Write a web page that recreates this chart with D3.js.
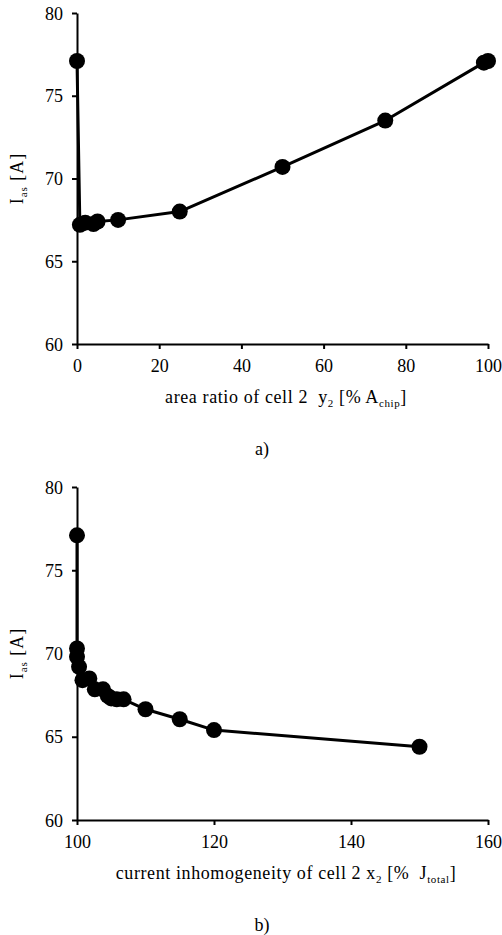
<!DOCTYPE html>
<html><head><meta charset="utf-8">
<script src="https://cdn.jsdelivr.net/npm/d3@7"></script>
<style>
body{margin:0;background:#fff;}
svg{display:block;}
svg text{font-family:"Liberation Serif","DejaVu Serif",serif !important;}
</style></head>
<body>
<svg id="c" width="502" height="935"></svg>
<script>
// Panel a) : area ratio of cell 2 y2 [% A_chip] vs I_as [A]
const areaRatio = [0, 0.7, 2, 4, 5, 10, 25, 50, 75, 99, 100];
const iasA      = [77.1, 67.2, 67.33, 67.25, 67.4, 67.5, 68.0, 70.7, 73.5, 77.0, 77.1];
const xTicksA   = [0, 20, 40, 60, 80, 100];

// Panel b) : current inhomogeneity of cell 2 x2 [% J_total] vs I_as [A]
const inhomog = [100, 100, 100, 100.3, 100.8, 101.8, 102.6, 103.8, 104.5, 105, 105.8, 106.8, 110, 115, 120, 150];
const iasB    = [77.1, 70.3, 69.8, 69.2, 68.4, 68.5, 67.85, 67.85, 67.45, 67.3, 67.25, 67.25, 66.65, 66.05, 65.4, 64.4];
const xTicksB = [100, 120, 140, 160];

const yTicks = [60, 65, 70, 75, 80];

const svg = d3.select("#c");

function panel(cfg){
  const g = svg.append("g");
  const x = d3.scaleLinear().domain(cfg.xDomain).range([77, 488]);
  const y = d3.scaleLinear().domain([60, 80]).range([cfg.bottom, cfg.top]);

  const xa = g.append("g").attr("transform", `translate(0,${cfg.bottom})`)
    .call(d3.axisBottom(x).tickValues(cfg.xTicks).tickSize(5).tickSizeOuter(0).tickPadding(10));
  const ya = g.append("g").attr("transform", `translate(77,0)`)
    .call(d3.axisLeft(y).tickValues(yTicks).tickSize(5).tickSizeOuter(0).tickPadding(9));
  [xa, ya].forEach(a => {
    a.attr("font-family", null).attr("font-size", null);
    a.selectAll("path,line").attr("stroke", "#000").attr("stroke-width", 2);
    a.selectAll("text").attr("fill", "#000").style("font-size", "18px");
  });
  xa.selectAll("text").attr("dy", "0.71em");
  ya.selectAll("text").attr("dy", "0.34em");

  const pts = cfg.xs.map((v, i) => [v, cfg.ys[i]]);
  g.append("path").datum(pts)
    .attr("fill", "none").attr("stroke", "#000").attr("stroke-width", 3)
    .attr("stroke-linejoin", "round")
    .attr("d", d3.line().x(d => x(d[0])).y(d => y(d[1])));
  g.selectAll("circle.pt").data(pts).enter().append("circle")
    .attr("class", "pt").attr("cx", d => x(d[0])).attr("cy", d => y(d[1]))
    .attr("r", 8).attr("fill", "#000");

  // y label
  const yl = g.append("text")
    .attr("transform", `translate(23,${(cfg.top + cfg.bottom) / 2}) rotate(-90)`)
    .attr("text-anchor", "middle").style("font-size", "18px").style("letter-spacing", "1px").attr("fill", "#000");
  yl.append("tspan").text("I");
  yl.append("tspan").attr("dy", 4).style("font-size", "11px").text("as");
  yl.append("tspan").attr("dy", -4).text(" [A]");

  // x label
  const xl = g.append("text").attr("x", 286).attr("y", cfg.bottom + 59)
    .attr("text-anchor", "middle").style("font-size", "18px").style("letter-spacing", "0.6px").attr("fill", "#000");
  cfg.xLabel.forEach(p => {
    const t = xl.append("tspan").text(p.t);
    if (p.sub) { t.attr("dy", 4).style("font-size", "11px"); }
    else if (p.after) { t.attr("dy", -4); }
  });

  g.append("text").attr("x", 262).attr("y", cfg.bottom + 111)
    .attr("text-anchor", "middle").style("font-size", "18px").attr("fill", "#000")
    .text(cfg.tag);
}

panel({xDomain: [0, 100], xTicks: xTicksA, top: 13, bottom: 344, xs: areaRatio, ys: iasA,
  xLabel: [{t: "area ratio of cell 2\u00a0\u00a0y"}, {t: "2", sub: true}, {t: " [% A", after: true}, {t: "chip", sub: true}, {t: "]", after: true}],
  tag: "a)"});
panel({xDomain: [100, 160], xTicks: xTicksB, top: 487, bottom: 820, xs: inhomog, ys: iasB,
  xLabel: [{t: "current inhomogeneity of cell 2 x"}, {t: "2", sub: true}, {t: " [%\u00a0\u00a0J", after: true}, {t: "total", sub: true}, {t: "]", after: true}],
  tag: "b)"});
</script>
</body></html>
